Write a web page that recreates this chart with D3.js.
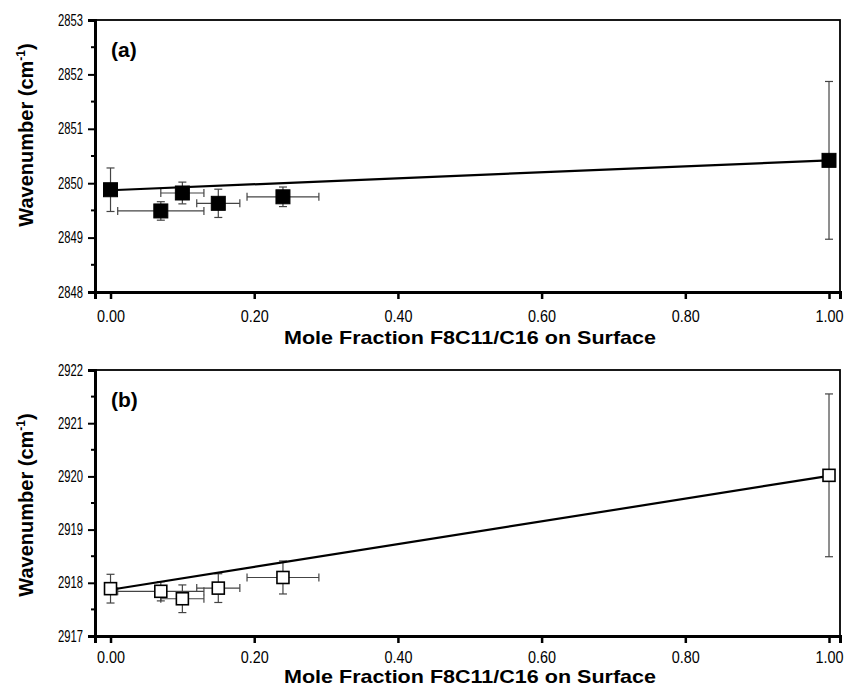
<!DOCTYPE html>
<html><head><meta charset="utf-8">
<script src="https://cdn.jsdelivr.net/npm/d3@7"></script>
<style>
body{margin:0;background:#fff;}
text{font-family:"Liberation Sans",Arial,sans-serif;}
</style></head>
<body><svg id="c" width="846" height="689"></svg>
<script>
// ---- data ----
const xFrac = [0, 0.07, 0.10, 0.15, 0.24, 1.00];
const xErr  = [0, 0.06, 0.03, 0.03, 0.05, 0];
const wavA  = [2849.88, 2849.49, 2849.82, 2849.63, 2849.75, 2850.42];
const errA  = [0.40, 0.17, 0.20, 0.26, 0.18, 1.45];
const wavB  = [2917.89, 2917.84, 2917.70, 2917.90, 2918.10, 2920.02];
const errB  = [0.27, 0.18, 0.26, 0.27, 0.31, 1.53];
const fitX  = [0, 1];
const fitA  = [2849.87, 2850.42];
const fitB  = [2917.87, 2920.01];
const xTicks = [0, 0.2, 0.4, 0.6, 0.8, 1.0];
const yTicksA = [2848, 2849, 2850, 2851, 2852, 2853];
const yTicksB = [2917, 2918, 2919, 2920, 2921, 2922];
const xTitle = "Mole Fraction F8C11/C16 on Surface";

const svg = d3.select("#c");
const L = 95, R = 840;
const x = d3.scaleLinear().domain([-0.0216, 1.0153]).range([L, R]);

function fitWidth(sel, w){
  sel.attr("textLength", w).attr("lengthAdjust", "spacingAndGlyphs");
}

function panel(cfg){
  const g = svg.append("g");
  const y = d3.scaleLinear().domain(cfg.ydom).range([cfg.bottom, cfg.top]);
  // frame
  g.append("rect").attr("x", L).attr("y", cfg.top).attr("width", R - L).attr("height", cfg.bottom - cfg.top)
    .attr("fill", "none").attr("stroke", "#000").attr("stroke-width", 1.8);
  // x axis
  const xa = g.append("g").attr("transform", `translate(0,${cfg.bottom})`)
    .call(d3.axisBottom(x).tickValues(xTicks).tickFormat(d3.format(".2f")).tickSize(7).tickPadding(cfg.xpad));
  xa.select(".domain").attr("stroke-width", 3);
  xa.selectAll(".tick line").attr("stroke-width", 2.5);
  xa.selectAll("text").attr("font-size", 16).attr("fill", "#000");
  fitWidth(xa.selectAll("text"), 28);
  // y axis
  const ya = g.append("g").attr("transform", `translate(${L},0)`)
    .call(d3.axisLeft(y).tickValues(cfg.yticks).tickFormat(d3.format("d")).tickSize(7).tickPadding(5));
  ya.select(".domain").attr("stroke-width", 3);
  ya.selectAll(".tick line").attr("stroke-width", 2);
  ya.selectAll("text").attr("font-size", 16).attr("fill", "#000");
  fitWidth(ya.selectAll("text"), 25);
  // minor y ticks
  const minors = d3.range(cfg.ydom[0] + 0.5, cfg.ydom[1], 1);
  g.selectAll(".minor").data(minors).join("line")
    .attr("x1", L - 4).attr("x2", L).attr("y1", d => y(d)).attr("y2", d => y(d))
    .attr("stroke", "#000").attr("stroke-width", 2);

  const pts = xFrac.map((d, i) => ({x: d, xe: xErr[i], y: cfg.vals[i], ye: cfg.errs[i]}));
  const eb = g.append("g").attr("stroke", "#444").attr("stroke-width", 1.2).attr("fill", "none");
  const cap = 4;
  pts.forEach(p => {
    eb.append("line").attr("x1", x(p.x)).attr("x2", x(p.x)).attr("y1", y(p.y - p.ye)).attr("y2", y(p.y + p.ye));
    eb.append("line").attr("x1", x(p.x) - cap).attr("x2", x(p.x) + cap).attr("y1", y(p.y - p.ye)).attr("y2", y(p.y - p.ye));
    eb.append("line").attr("x1", x(p.x) - cap).attr("x2", x(p.x) + cap).attr("y1", y(p.y + p.ye)).attr("y2", y(p.y + p.ye));
    if (p.xe > 0) {
      eb.append("line").attr("x1", x(p.x - p.xe)).attr("x2", x(p.x + p.xe)).attr("y1", y(p.y)).attr("y2", y(p.y));
      eb.append("line").attr("x1", x(p.x - p.xe)).attr("x2", x(p.x - p.xe)).attr("y1", y(p.y) - cap).attr("y2", y(p.y) + cap);
      eb.append("line").attr("x1", x(p.x + p.xe)).attr("x2", x(p.x + p.xe)).attr("y1", y(p.y) - cap).attr("y2", y(p.y) + cap);
    }
  });
  // fit line
  g.append("path").datum(fitX.map((d, i) => [d, cfg.fit[i]]))
    .attr("d", d3.line().x(d => x(d[0])).y(d => y(d[1])))
    .attr("stroke", "#000").attr("stroke-width", 2.2).attr("fill", "none");
  // markers
  const s = cfg.filled ? 14 : 12;
  g.selectAll(".m").data(pts).join("rect")
    .attr("x", d => x(d.x) - s / 2).attr("y", d => y(d.y) - s / 2).attr("width", s).attr("height", s)
    .attr("fill", cfg.filled ? "#000" : "#fff").attr("stroke", "#000").attr("stroke-width", cfg.filled ? 1 : 1.6);
  // panel label
  g.append("text").attr("x", 111).attr("y", cfg.top + 37).attr("font-size", 21).attr("font-weight", "bold").text(cfg.label);
  // x title
  g.append("text").attr("x", 470).attr("y", cfg.bottom + cfg.tpad).attr("text-anchor", "middle")
    .attr("font-size", 19).attr("font-weight", "bold").attr("textLength", 372).attr("lengthAdjust", "spacingAndGlyphs").text(xTitle);
  // y title
  const yt = g.append("text").attr("transform", `translate(33,${cfg.ytitleY}) rotate(-90)`).attr("text-anchor", "middle")
    .attr("font-size", 20).attr("font-weight", "bold");
  yt.append("tspan").text("Wavenumber (cm");
  yt.append("tspan").attr("dy", -8).attr("font-size", 12).text("-1");
  yt.append("tspan").attr("dy", 8).text(")");
}

panel({top: 20, bottom: 292, ydom: [2848, 2853], yticks: yTicksA, vals: wavA, errs: errA, fit: fitA, filled: true, label: "(a)", ytitleY: 135, xpad: 12, tpad: 52});
panel({top: 370, bottom: 636, ydom: [2917, 2922], yticks: yTicksB, vals: wavB, errs: errB, fit: fitB, filled: false, label: "(b)", ytitleY: 505, xpad: 9, tpad: 47});
</script></body></html>
